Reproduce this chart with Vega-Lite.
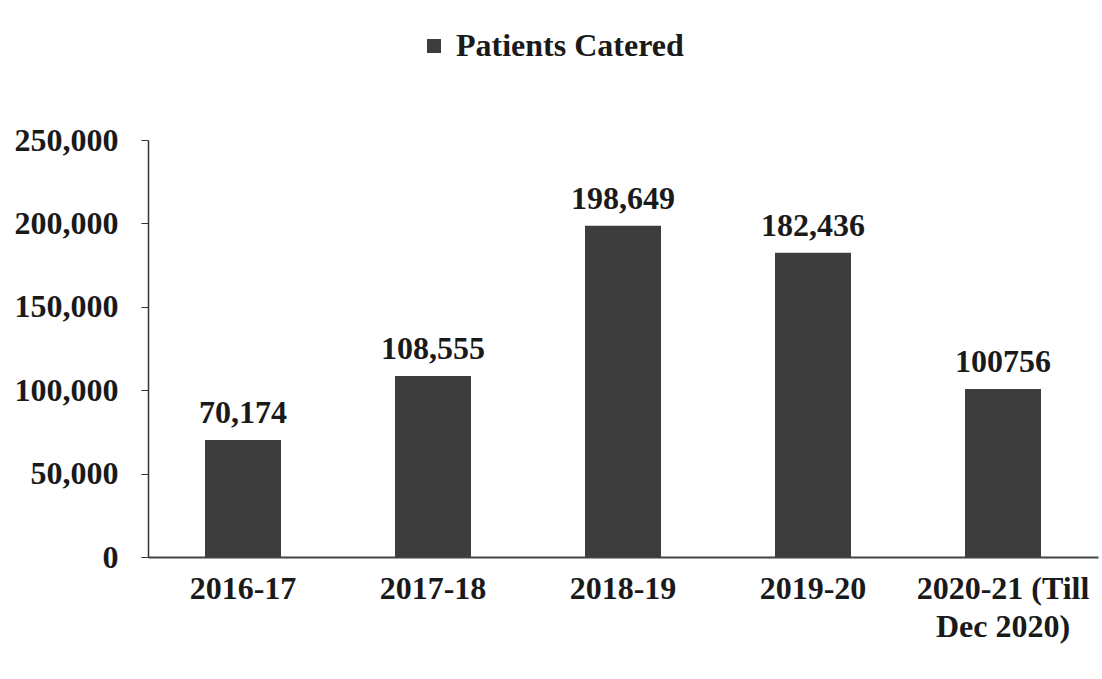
{
  "$schema": "https://vega.github.io/schema/vega-lite/v6.json",
  "width": 950,
  "height": 417,
  "autosize": {"type": "none"},
  "padding": {"left": 148, "top": 140, "right": 4, "bottom": 122},
  "background": "white",
  "data": {
    "values": [
      {"year": "2016-17", "patients": 70174, "label": "70,174"},
      {"year": "2017-18", "patients": 108555, "label": "108,555"},
      {"year": "2018-19", "patients": 198649, "label": "198,649"},
      {"year": "2019-20", "patients": 182436, "label": "182,436"},
      {"year": "2020-21 (Till Dec 2020)", "patients": 100756, "label": "100756"}
    ]
  },
  "encoding": {
    "x": {
      "field": "year",
      "type": "nominal",
      "sort": null,
      "scale": {"paddingInner": 0.6, "paddingOuter": 0.3},
      "axis": {
        "title": null,
        "labelAngle": 0,
        "ticks": false,
        "labelPadding": 16,
        "labelFont": "Liberation Serif",
        "labelFontWeight": "bold",
        "labelFontSize": 32,
        "labelColor": "#1a1a1a",
        "labelLineHeight": 38,
        "labelBaseline": "top",
        "domainColor": "#444444",
        "domainWidth": 2,
        "labelExpr": "datum.label == '2020-21 (Till Dec 2020)' ? ['2020-21 (Till', 'Dec 2020)'] : datum.label"
      }
    },
    "y": {
      "field": "patients",
      "type": "quantitative",
      "scale": {"domain": [0, 250000], "nice": false},
      "axis": {
        "title": null,
        "values": [0, 50000, 100000, 150000, 200000, 250000],
        "labelExpr": "format(datum.value, ',d')",
        "grid": false,
        "tickSize": 7,
        "tickColor": "#333333",
        "domainColor": "#333333",
        "domainWidth": 1.5,
        "labelPadding": 23,
        "labelFont": "Liberation Serif",
        "labelFontWeight": "bold",
        "labelFontSize": 32,
        "labelColor": "#1a1a1a"
      }
    }
  },
  "layer": [
    {
      "mark": {"type": "bar"},
      "encoding": {
        "color": {
          "datum": "Patients Catered",
          "type": "nominal",
          "scale": {"range": ["#3d3d3d"]},
          "legend": {
            "title": null,
            "orient": "none",
            "legendX": 270,
            "legendY": -110,
            "symbolType": "square",
            "symbolSize": 196,
            "symbolOpacity": 1,
            "labelFont": "Liberation Serif",
            "labelFontWeight": "bold",
            "labelFontSize": 32,
            "labelColor": "#1a1a1a",
            "labelLimit": 500,
            "labelOffset": 6,
            "padding": 0
          }
        }
      }
    },
    {
      "mark": {
        "type": "text",
        "baseline": "alphabetic",
        "dy": -17,
        "font": "Liberation Serif",
        "fontWeight": "bold",
        "fontSize": 32,
        "color": "#1a1a1a"
      },
      "encoding": {"text": {"field": "label"}}
    }
  ],
  "config": {"view": {"stroke": null}}
}
